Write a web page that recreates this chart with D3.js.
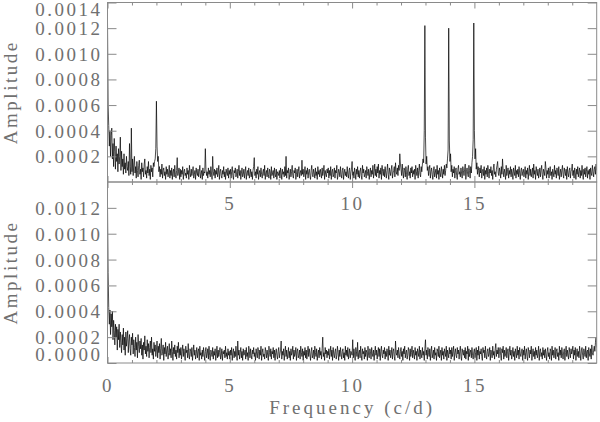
<!DOCTYPE html>
<html>
<head>
<meta charset="utf-8">
<script src="https://cdn.jsdelivr.net/npm/d3@7/dist/d3.min.js"></script>
<style>
  html, body { margin: 0; padding: 0; background: #fff; }
  svg { display: block; }
  .lbl { font-family: "Liberation Serif", "DejaVu Serif", serif; font-size: 19px; fill: #707070; letter-spacing: 2.5px; }
</style>
</head>
<body>
<svg id="chart" width="600" height="422"></svg>
<script>
// ---------------- DATA ----------------
// Frequency grid: 0 .. 20 c/d, step 0.025 c/d (801 samples per panel, 40 per row = 1 c/d)
const freqStart = 0;
const freqStep = 0.025;
const ampUnit = 1e-5; // amplitudes below are in units of 1e-5

// Top panel: amplitude spectrum of the original data
const ampTop = [
  125,60,44,28,40,20,36,42,18,30,12,34,24,10,28,16,22,8,26,14,20,35,9,24,12,18,6,22,10,15,7,20,12,9,16,5,30,12,6,42,
  8,18,5,14,20,7,12,3,16,9,4,13,17,6,10,2,15,8,11,4,14,18,6,9,3,12,7,16,5,10,2,13,8,11,4,15,12,16,18,26,
  63,28,16,20,8,12,4,10,6,14,3,9,11,5,8,2,12,6,10,4,7,13,3,9,5,11,2,8,10,4,13,6,3,9,19,5,8,11,2,10,
  4,9,6,12,2,8,10,5,7,3,11,6,9,2,13,7,4,10,5,8,12,3,6,9,2,11,7,5,10,4,8,13,3,6,9,2,11,5,8,7,
  26,10,5,8,3,11,6,9,4,12,7,2,20,8,5,10,3,9,6,11,4,7,13,2,8,10,5,3,9,6,12,4,8,2,10,7,5,11,3,9,
  6,10,3,8,12,5,2,9,7,11,4,6,10,3,8,13,5,9,2,7,11,4,6,10,3,8,12,2,7,9,5,11,3,6,10,4,8,2,9,12,
  19,5,8,3,10,6,12,2,7,9,4,11,6,3,8,10,5,13,2,7,9,4,11,6,3,10,8,2,12,5,7,9,3,11,6,4,10,2,8,7,
  5,9,3,11,7,2,10,6,8,4,12,5,20,3,9,7,11,2,6,10,4,8,13,5,3,9,7,11,2,6,10,4,8,12,3,7,9,5,17,6,
  10,4,7,12,2,9,6,11,3,8,10,5,2,9,13,6,4,10,7,3,11,5,8,2,12,6,9,4,10,7,3,11,5,8,13,2,9,6,4,10,
  7,11,3,9,5,12,2,8,10,4,6,11,3,9,7,13,2,5,10,8,4,12,6,3,9,11,2,7,10,5,8,4,12,6,3,9,11,2,7,10,
  16,5,8,3,11,7,2,10,6,12,4,9,3,8,11,5,2,13,7,10,4,6,9,3,12,8,5,10,2,7,11,4,9,6,13,3,8,14,5,10,
  4,12,7,14,3,9,6,11,2,13,8,5,10,4,12,7,3,9,14,6,2,11,8,5,10,13,3,7,9,12,4,15,8,6,11,5,13,9,22,14,
  10,5,14,7,3,11,9,4,12,6,2,10,13,5,8,3,11,7,12,4,9,6,10,2,13,8,5,11,3,9,14,6,4,12,8,14,18,15,40,122,
  35,14,20,9,12,5,10,13,3,8,11,6,2,9,12,4,7,10,3,13,6,9,2,11,7,4,12,8,3,10,6,13,5,9,14,11,18,25,120,32,
  16,22,8,13,4,10,7,12,3,9,11,5,2,10,13,6,8,4,11,7,3,12,9,5,10,14,2,8,11,6,4,13,9,3,12,7,15,20,33,124,
  40,18,26,10,15,6,12,9,4,11,7,13,3,8,10,5,12,2,9,6,11,4,13,8,3,10,7,12,5,9,2,11,14,6,8,4,10,13,16,7,
  5,11,8,3,12,6,18,9,4,10,7,2,13,5,8,11,3,9,6,12,4,10,7,2,11,8,5,13,3,9,6,10,4,12,7,2,9,11,5,8,
  10,4,7,12,3,9,6,11,2,8,13,5,10,4,7,11,3,14,6,9,2,12,8,5,10,3,7,11,4,9,13,6,2,10,8,5,16,11,3,9,
  6,11,3,9,12,5,8,2,10,7,4,13,6,9,3,11,8,5,12,2,7,10,4,9,13,6,3,11,8,5,10,2,12,7,4,9,11,3,8,10,
  14,5,9,3,11,7,2,10,6,12,4,8,11,3,9,5,13,7,2,10,6,11,4,8,12,3,9,6,10,2,11,7,5,13,8,4,10,12,6,14,
  9
];

// Bottom panel: residual spectrum after prewhitening
const ampBottom = [
  122,70,43,30,41,22,38,28,40,18,33,25,14,30,20,28,10,26,18,30,12,24,16,8,22,14,27,10,20,6,24,13,19,25,8,17,22,11,6,20,
  14,23,7,18,12,5,20,10,16,4,22,13,8,17,11,19,6,14,3,16,10,21,7,13,5,18,9,15,4,12,17,8,20,6,11,3,16,9,14,5,
  10,17,4,13,8,15,3,11,19,6,9,14,2,12,7,16,5,10,13,3,8,15,6,11,4,17,9,2,12,7,14,5,10,3,13,8,16,4,11,6,
  12,3,9,14,5,11,7,2,13,8,10,4,15,6,3,11,9,5,12,2,8,14,6,10,3,7,12,4,9,11,2,13,6,8,3,10,5,12,7,2,
  9,12,4,7,11,3,13,6,2,10,8,5,12,3,9,6,11,2,7,13,4,10,5,8,12,3,6,11,2,9,7,10,4,13,5,8,3,11,6,9,
  3,10,6,12,2,8,11,4,9,5,13,7,2,17,6,10,3,8,12,4,9,2,11,6,7,10,3,12,5,8,2,13,9,4,11,6,3,10,7,12,
  5,8,2,11,7,4,12,9,3,10,6,13,2,8,11,5,7,3,12,9,4,10,6,2,13,8,5,11,3,9,7,12,4,10,2,8,11,6,3,9,
  12,4,7,10,17,3,9,6,11,2,8,13,5,10,3,7,12,4,9,2,11,6,8,13,3,10,5,7,12,2,9,11,4,6,10,3,13,8,5,11,
  2,9,6,12,4,10,3,8,13,5,11,7,2,9,12,4,6,10,3,13,8,5,11,2,7,10,4,12,6,9,3,11,20,5,8,2,12,7,10,4,
  9,6,11,3,8,13,5,10,2,12,7,4,9,11,3,6,13,8,2,10,5,12,7,3,9,11,4,8,2,13,6,10,5,12,3,7,11,4,9,8,
  6,18,4,11,7,2,12,9,5,16,3,8,10,4,13,6,2,11,7,9,3,12,5,10,8,2,13,6,4,11,9,3,12,7,5,10,2,8,13,6,
  10,3,8,12,5,11,2,9,13,6,4,10,7,12,3,9,5,11,8,2,13,6,10,4,7,12,3,9,11,5,2,17,8,6,10,4,12,7,3,9,
  12,5,9,2,11,7,13,4,8,10,3,6,12,9,2,11,5,8,13,4,10,7,3,12,6,9,2,11,8,5,13,3,10,7,4,12,6,9,2,11,
  18,6,10,3,12,8,5,11,2,9,13,4,7,10,3,12,6,8,2,11,9,5,13,4,7,10,2,12,6,9,3,11,8,5,13,2,10,7,4,12,
  7,10,3,12,5,9,13,2,8,11,6,4,12,7,10,3,9,13,5,2,11,8,6,10,4,12,3,9,7,13,2,11,5,8,10,4,12,6,3,9,
  11,4,8,12,2,10,6,13,3,9,7,11,5,2,12,8,10,4,13,6,3,9,11,5,7,12,2,10,8,4,13,6,9,3,11,15,5,10,7,12,
  4,9,12,6,2,11,8,13,3,10,5,7,12,4,9,11,2,8,13,6,10,3,7,12,5,9,2,11,8,4,13,6,10,3,12,7,5,9,11,2,
  10,6,13,3,8,11,5,2,12,9,4,10,7,13,2,8,11,5,9,3,12,6,10,4,7,13,2,9,11,5,8,3,12,6,10,4,11,7,2,9,
  12,5,8,3,11,9,2,13,6,10,4,7,12,3,9,11,5,8,2,13,6,10,4,12,7,3,9,11,2,8,13,5,10,6,3,12,8,4,11,7,
  9,13,3,10,6,12,2,8,11,5,9,4,13,7,2,10,12,6,3,11,8,5,13,4,9,10,2,12,7,5,11,3,14,8,6,10,13,9,16,20,
  12
];

const xTicksMajor = [0, 5, 10, 15];
const xTicksMinor = [1,2,3,4,6,7,8,9,11,12,13,14,16,17,18,19];
const yTicksTop = [0.0002, 0.0004, 0.0006, 0.0008, 0.0010, 0.0012, 0.0014];
const yTicksBottom = [0.0000, 0.0002, 0.0004, 0.0006, 0.0008, 0.0010, 0.0012];
const xLabelsTop = [5, 10, 15];
const xLabelsBottom = [0, 5, 10, 15];
const yTitle = "Amplitude";
const xTitle = "Frequency (c/d)";

// ---------------- DRAW ----------------
const svg = d3.select("#chart");
const L = 107.5, R = 596.7;
const panels = [
  { top: 2.5, bottom: 182, amp: ampTop, yTicks: yTicksTop, xLabels: xLabelsTop, labPad: 14.8 },
  { top: 182, bottom: 363, amp: ampBottom, yTicks: yTicksBottom, xLabels: xLabelsBottom, labPad: 15.8 }
];

const x = d3.scaleLinear().domain([0, 20]).range([L, R]);
const axisColor = "#8a8a8a";

panels.forEach((p, pi) => {
  const y = d3.scaleLinear().domain([0, 0.0014]).range([p.bottom, p.top]);
  const data = p.amp.map((a, i) => ({ f: freqStart + i * freqStep, a: a * ampUnit }));

  const clipId = "clip" + pi;
  svg.append("clipPath").attr("id", clipId)
    .append("rect").attr("x", L).attr("y", p.top).attr("width", R - L).attr("height", p.bottom - p.top);

  const line = d3.line().x(d => x(d.f)).y(d => y(d.a));
  svg.append("path").datum(data)
    .attr("clip-path", `url(#${clipId})`)
    .attr("d", line)
    .attr("fill", "none")
    .attr("stroke", "#000")
    .attr("stroke-width", 0.7)
    .attr("stroke-linejoin", "miter");

  // frame
  svg.append("rect").attr("x", L).attr("y", p.top).attr("width", R - L).attr("height", p.bottom - p.top)
    .attr("fill", "none").attr("stroke", axisColor).attr("stroke-width", 1);

  // left axis with labels
  const gl = svg.append("g").attr("transform", `translate(${L},0)`)
    .call(d3.axisLeft(y).tickValues(p.yTicks).tickSize(-9).tickPadding(5).tickFormat(d3.format(".4f")));
  gl.select(".domain").remove();
  gl.selectAll(".tick line").attr("stroke", axisColor);
  gl.selectAll(".tick text").attr("class", "lbl").attr("font-family", null).attr("font-size", null).attr("fill", null)
    .attr("dy", "0.34em")
    .attr("y", d => {
      const ty = y(d);
      if (ty < p.top + 7) return p.top + 7 - ty;
      if (ty > p.bottom - 8) return p.bottom - 8.5 - ty;
      return 0;
    });

  // right axis ticks
  const gr = svg.append("g").attr("transform", `translate(${R},0)`)
    .call(d3.axisRight(y).tickValues(p.yTicks).tickSize(-9).tickFormat(""));
  gr.select(".domain").remove();
  gr.selectAll(".tick line").attr("stroke", axisColor);

  // bottom axis: major + minor ticks and labels
  const gb = svg.append("g").attr("transform", `translate(0,${p.bottom})`)
    .call(d3.axisBottom(x).tickValues(xTicksMajor).tickSize(-6).tickPadding(p.labPad).tickFormat(d => p.xLabels.includes(d) ? d : ""));
  gb.select(".domain").remove();
  gb.selectAll(".tick line").attr("stroke", axisColor);
  gb.selectAll(".tick text").attr("class", "lbl").attr("font-family", null).attr("font-size", null).attr("fill", null);
  const gbm = svg.append("g").attr("transform", `translate(0,${p.bottom})`)
    .call(d3.axisBottom(x).tickValues(xTicksMinor).tickSize(-3).tickFormat(""));
  gbm.select(".domain").remove();
  gbm.selectAll(".tick line").attr("stroke", axisColor);

  // top axis ticks
  const gt = svg.append("g").attr("transform", `translate(0,${p.top})`)
    .call(d3.axisTop(x).tickValues(xTicksMajor).tickSize(-6).tickFormat(""));
  gt.select(".domain").remove();
  gt.selectAll(".tick line").attr("stroke", axisColor);
  const gtm = svg.append("g").attr("transform", `translate(0,${p.top})`)
    .call(d3.axisTop(x).tickValues(xTicksMinor).tickSize(-3).tickFormat(""));
  gtm.select(".domain").remove();
  gtm.selectAll(".tick line").attr("stroke", axisColor);

  // y title
  const cy = (p.top + p.bottom) / 2;
  svg.append("text").attr("class", "lbl")
    .attr("transform", `translate(17,${cy}) rotate(-90)`)
    .attr("text-anchor", "middle")
    .text(yTitle);
});

svg.append("text").attr("class", "lbl")
  .attr("x", x(10)).attr("y", 414)
  .attr("text-anchor", "middle")
  .style("letter-spacing", "3px")
  .text(xTitle);
</script>
</body>
</html>
